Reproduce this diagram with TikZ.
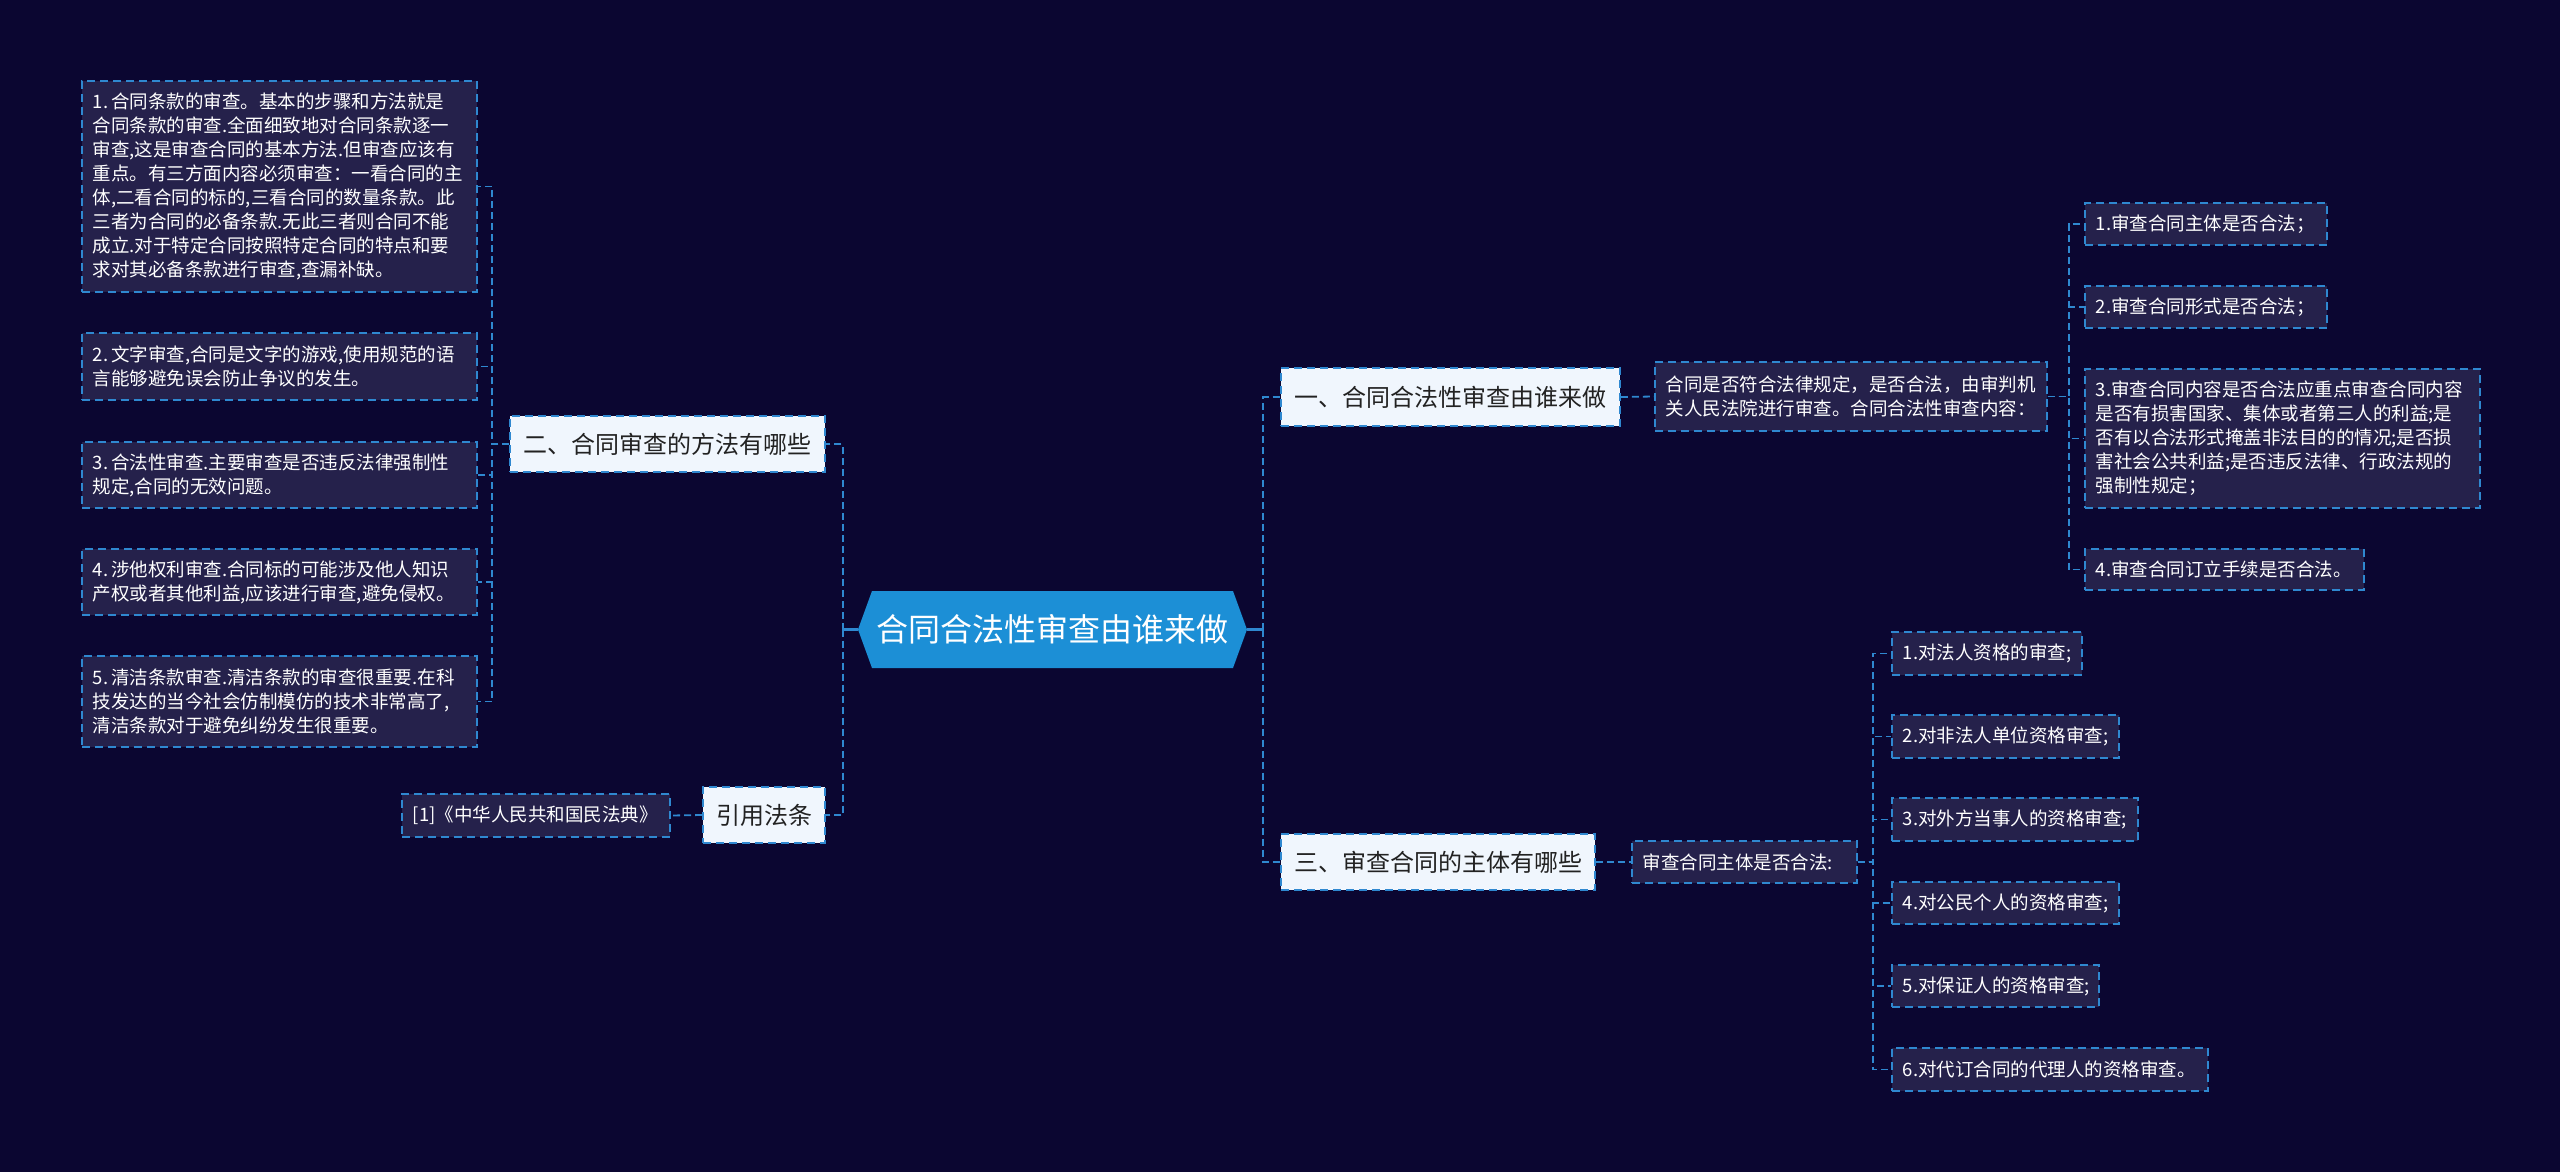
\documentclass[tikz,border=0pt]{standalone}
\usepackage{fontspec}
\setmainfont{Noto Sans CJK SC}
\definecolor{bgcol}{HTML}{0B0631}
\definecolor{leaffill}{HTML}{25214B}
\definecolor{lineblue}{HTML}{2F88D0}
\definecolor{l2fill}{HTML}{F0F6FD}
\definecolor{l2text}{HTML}{222222}
\definecolor{rootblue}{HTML}{1C8FD6}
\tikzset{
  leaf/.style={draw=lineblue, line width=1.6pt, dash pattern=on 8pt off 5pt, fill=leaffill, text=white,
    font=\fontsize{18.5}{24}\selectfont, align=left, inner xsep=11pt, inner ysep=2pt, anchor=west},
  lvtwo/.style={draw=lineblue, line width=1.6pt, dash pattern=on 8pt off 5pt, fill=l2fill, text=l2text,
    font=\fontsize{24}{28}\selectfont, inner sep=0pt},
  rootnode/.style={text=white, font=\fontsize{32}{38}\selectfont, inner sep=0pt, minimum width=389pt, minimum height=77pt},
  conn/.style={draw=lineblue, line width=1.8pt, dash pattern=on 7pt off 4pt},
  connsolid/.style={draw=lineblue, line width=2.2pt}
}
\begin{document}
\begin{tikzpicture}[x=1pt,y=-1pt]
\fill[bgcol] (0,0) rectangle (2560,1172);
\useasboundingbox (0,0) rectangle (2560,1172);

% root hexagon
\fill[rootblue] (858,629.5) -- (872,591) -- (1233,591) -- (1247,629.5) -- (1233,668) -- (872,668) -- cycle;
\node[rootnode] (root) at (1052.5,629.5) {合同合法性审查由谁来做};

% level two
\node[lvtwo, minimum width=315pt, minimum height=56pt] (n2) at (667.5,444) {二、合同审查的方法有哪些};
\node[lvtwo, minimum width=122pt, minimum height=56pt] (cite) at (764,815) {引用法条};
\node[lvtwo, minimum width=339pt, minimum height=58pt] (n1) at (1450.5,397) {一、合同合法性审查由谁来做};
\node[lvtwo, minimum width=314pt, minimum height=56pt] (n3) at (1438,862) {三、审查合同的主体有哪些};

% left leaves
\node[leaf, text width=373pt, minimum height=211pt] (l1) at (81,186.5) {1.\,合同条款的审查。基本的步骤和方法就是\\合同条款的审查.全面细致地对合同条款逐一\\审查,这是审查合同的基本方法.但审查应该有\\重点。有三方面内容必须审查：一看合同的主\\体,二看合同的标的,三看合同的数量条款。此\\三者为合同的必备条款.无此三者则合同不能\\成立.对于特定合同按照特定合同的特点和要\\求对其必备条款进行审查,查漏补缺。};
\node[leaf, text width=373pt, minimum height=67pt] (l2) at (81,366.5) {2.\,文字审查,合同是文字的游戏,使用规范的语\\言能够避免误会防止争议的发生。};
\node[leaf, text width=373pt, minimum height=66pt] (l3) at (81,475) {3.\,合法性审查.主要审查是否违反法律强制性\\规定,合同的无效问题。};
\node[leaf, text width=373pt, minimum height=66pt] (l4) at (81,582) {4.\,涉他权利审查.合同标的可能涉及他人知识\\产权或者其他利益,应该进行审查,避免侵权。};
\node[leaf, text width=373pt, minimum height=91pt] (l5) at (81,701.5) {5.\,清洁条款审查.清洁条款的审查很重要.在科\\技发达的当今社会仿制模仿的技术非常高了,\\清洁条款对于避免纠纷发生很重要。};
\node[leaf, text width=246pt, minimum height=43pt] (ref1) at (401,815.5) {[1]《中华人民共和国民法典》};

% right branch one
\node[leaf, text width=370pt, minimum height=69pt] (a1) at (1654,396.5) {合同是否符合法律规定，是否合法，由审判机\\关人民法院进行审查。合同合法性审查内容：};
\node[leaf, text width=220pt, minimum height=42pt] (r1) at (2084,224) {1.审查合同主体是否合法；};
\node[leaf, text width=220pt, minimum height=42pt] (r2) at (2084,307) {2.审查合同形式是否合法；};
\node[leaf, text width=373pt, minimum height=139pt] (r3) at (2084,438.5) {3.审查合同内容是否合法应重点审查合同内容\\是否有损害国家、集体或者第三人的利益;是\\否有以合法形式掩盖非法目的的情况;是否损\\害社会公共利益;是否违反法律、行政法规的\\强制性规定；};
\node[leaf, text width=257pt, minimum height=41pt] (r4) at (2084,569.5) {4.审查合同订立手续是否合法。};

% right branch three
\node[leaf, text width=203pt, minimum height=42pt] (b1) at (1631,862) {审查合同主体是否合法:};
\node[leaf, text width=168pt, minimum height=43pt] (s1) at (1891,653.5) {1.对法人资格的审查;};
\node[leaf, text width=205pt, minimum height=43pt] (s2) at (1891,736.5) {2.对非法人单位资格审查;};
\node[leaf, text width=224pt, minimum height=43pt] (s3) at (1891,819.5) {3.对外方当事人的资格审查;};
\node[leaf, text width=205pt, minimum height=42pt] (s4) at (1891,903) {4.对公民个人的资格审查;};
\node[leaf, text width=185pt, minimum height=42pt] (s5) at (1891,986) {5.对保证人的资格审查;};
\node[leaf, text width=294pt, minimum height=43pt] (s6) at (1891,1069.5) {6.对代订合同的代理人的资格审查。};

% junction coordinates
\coordinate (rj) at ([xshift=16pt]root.east);
\coordinate (lj) at ([xshift=-15pt]root.west);

% root connectors
\draw[connsolid] (root.east) -- (rj);
\draw[connsolid] ([yshift=-6pt]rj) -- ([yshift=6pt]rj);
\draw[connsolid] (root.west) -- (lj);
\draw[connsolid] ([yshift=-6pt]lj) -- ([yshift=6pt]lj);
\draw[conn] (rj) |- (n1.west);
\draw[conn] (rj) |- (n3.west);
\draw[conn] (lj) |- (n2.east);
\draw[conn] (lj) |- (cite.east);

% left connectors
\foreach \c in {l1,l2,l3,l4,l5} \draw[conn] (n2.west) -- ++(-17,0) |- (\c.east);
\draw[conn] (cite.west) -- (ref1.east);

% right connectors
\draw[conn] (n1.east) -- (a1.west);
\foreach \c in {r1,r2,r3,r4} \draw[conn] (a1.east) -- ++(21,0) |- (\c.west);
\draw[conn] (n3.east) -- (b1.west);
\foreach \c in {s1,s2,s3,s4,s5,s6} \draw[conn] (b1.east) -- ++(15,0) |- (\c.west);
\end{tikzpicture}
\end{document}
